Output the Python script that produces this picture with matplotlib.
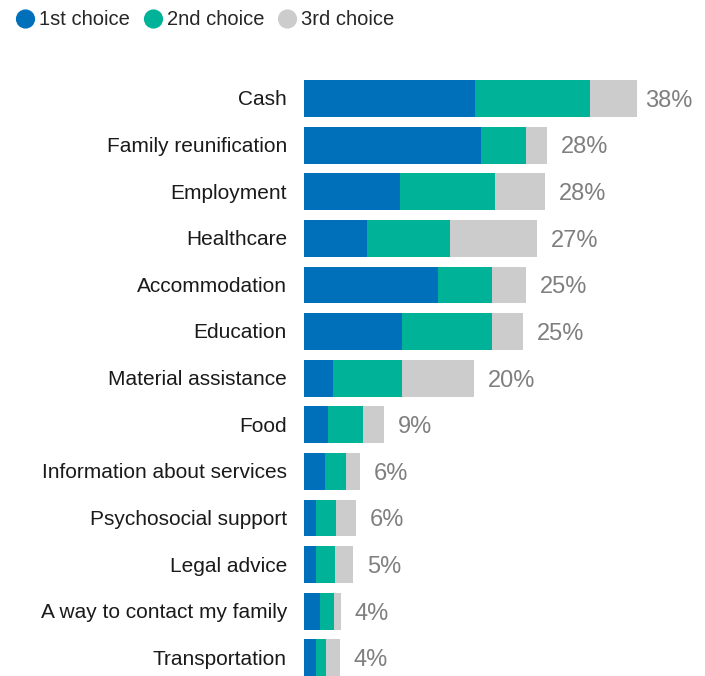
import matplotlib.pyplot as plt
from matplotlib.patches import Circle

plt.rcParams['font.family'] = ['Liberation Sans', 'DejaVu Sans']

categories = ['Cash', 'Family reunification', 'Employment', 'Healthcare',
              'Accommodation', 'Education', 'Material assistance', 'Food',
              'Information about services', 'Psychosocial support',
              'Legal advice', 'A way to contact my family', 'Transportation']
first = [19.5, 20.2, 11.0, 7.2, 15.3, 11.2, 3.3, 2.7, 2.4, 1.4, 1.4, 1.8, 1.4]
second = [13.1, 5.1, 10.8, 9.5, 6.2, 10.3, 7.9, 4.0, 2.4, 2.3, 2.1, 1.6, 1.1]
third = [5.4, 2.4, 5.7, 9.9, 3.8, 3.5, 8.2, 2.4, 1.6, 2.2, 2.1, 0.8, 1.6]
totals = [38, 28, 28, 27, 25, 25, 20, 9, 6, 6, 5, 4, 4]
series_names = ['1st choice', '2nd choice', '3rd choice']
colors = ['#0070BA', '#00B398', '#CCCCCC']

px = 8.763  # pixels per percent
fig = plt.figure(figsize=(7.05, 6.76), dpi=100)

# overlay in pixel coords for the legend row
lax = fig.add_axes([0, 0, 1, 1])
lax.set_xlim(0, 705)
lax.set_ylim(676, 0)
lax.axis('off')
for cx, name, c in zip([25.5, 153.5, 287.5], series_names, colors):
    lax.add_patch(Circle((cx, 19), 9.6, color=c, lw=0))
    lax.text(cx + 13.5, 19.5, name, va='center', ha='left', fontsize=14.5,
             color='#262626')

ax = fig.add_axes([304 / 705, 0, 401 / 705, 1])
ypos = list(range(len(categories)))
left = [0] * len(categories)
for vals, c in zip([first, second, third], colors):
    ax.barh(ypos, vals, left=left, height=0.79, color=c)
    left = [l + v for l, v in zip(left, vals)]

# value labels sit ~14px after the bar, but no further right than the plot edge allows
for y, end, t in zip(ypos, left, totals):
    xlab = min(end + 14 / px, 341 / px)
    ax.text(xlab, y + 0.05, f'{t}%', va='center', ha='left', fontsize=17,
            color='#7F7F7F')

for y, cat in zip(ypos, categories):
    ax.text(-1.95, y + 0.03, cat, ha='right', va='center', fontsize=15,
            color='#1A1A1A', clip_on=False)

ax.set_xlim(0, 401 / px)
ax.set_ylim(12.39, -2.114)
ax.axis('off')

fig.savefig('out.png', dpi=100)
